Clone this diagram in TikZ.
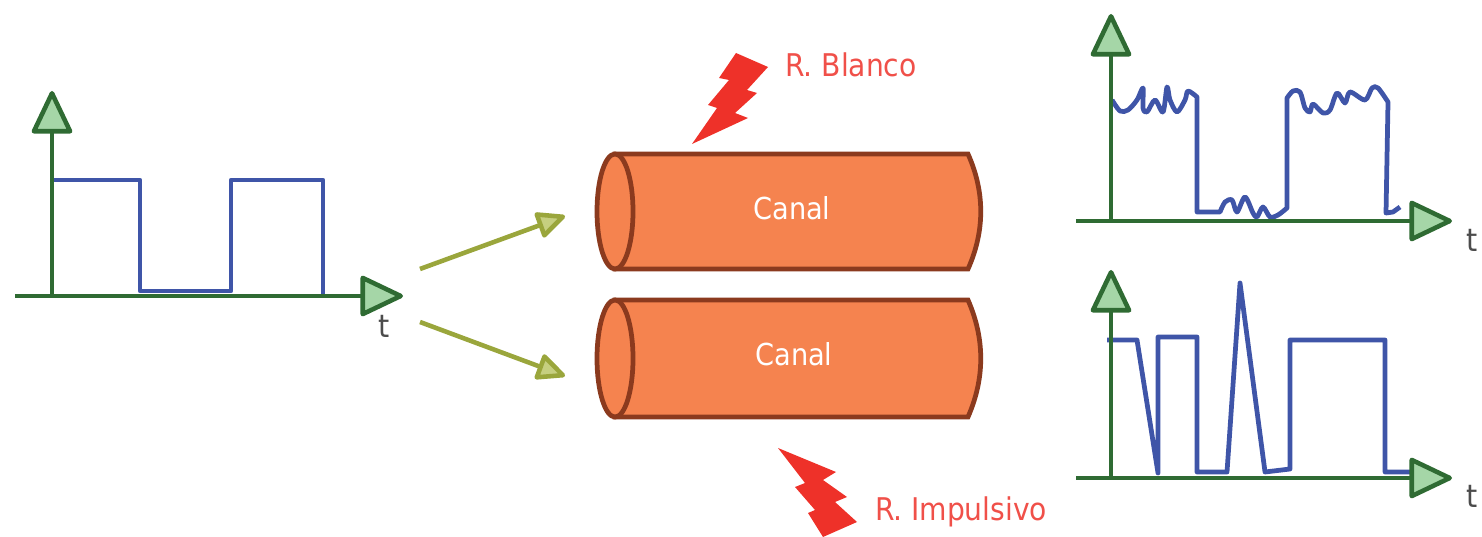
\documentclass[tikz,border=0pt]{standalone}
\usepackage{fontspec}
\setmainfont{DejaVu Sans Condensed}
\usetikzlibrary{arrows.meta}
\definecolor{axisgreen}{HTML}{2F6B33}
\definecolor{headgreen}{HTML}{A5D6A7}
\definecolor{signalblue}{HTML}{3F55A8}
\definecolor{boltred}{HTML}{EE3129}
\definecolor{canalfill}{HTML}{F5834F}
\definecolor{canalline}{HTML}{8B3A1E}
\definecolor{inputolive}{HTML}{9AA63C}
\definecolor{headolive}{HTML}{C6CF80}
\tikzset{
  axis/.style={line width=1.3pt, axisgreen, -{Triangle[round, length=13pt, width=12pt, fill=headgreen]}},
  signal/.style={line width=1.35pt, signalblue, line join=round},
  input/.style={line width=1.3pt, inputolive, -{Triangle[round, length=9pt, width=8pt, fill=headolive]}},
  canalbody/.style={fill=canalfill, draw=canalline, line width=1.35pt},
  canaltext/.style={text=white, font=\fontsize{8.6pt}{10pt}\selectfont},
  noiselabel/.style={text=boltred!85!white, font=\fontsize{8.9pt}{10pt}\selectfont},
  timelabel/.style={text=black!70, font=\fontsize{9pt}{10pt}\selectfont},
  bolt/.style={fill=boltred},
  wobble/.style={smooth, tension=0.5}
}
\begin{document}
\begin{tikzpicture}[x=0.01cm,y=-0.01cm]
\useasboundingbox (0,0) rectangle (1482,537);
\draw[canalbody] (615,154) -- (968,154) .. controls (985,192) and (985,231) .. (968,269) -- (615,269) -- cycle;
\draw[canalbody] (615,211.5) ellipse [x radius=18, y radius=57.5];
\draw[canalbody] (615,300) -- (968,300) .. controls (985,339) and (985,378) .. (968,417) -- (615,417) -- cycle;
\draw[canalbody] (615,358.5) ellipse [x radius=18, y radius=58.5];
\path (792,208) node (canalA) [canaltext] {Canal};
\path (794,354) node (canalB) [canaltext] {Canal};
\path (851,65) node (blanco) [noiselabel] {R. Blanco};
\path (961,512) node (impulsivo) [noiselabel] {R. Impulsivo};
\path (384,326) node (tA) [timelabel] {t};
\path (1472,240) node (tB) [timelabel] {t};
\path (1472,496) node (tC) [timelabel] {t};
\coordinate (split1) at (420,269);
\coordinate (split2) at (420,322);
\coordinate (in1) at (565,216);
\coordinate (in2) at (565,376);
\draw[input] (split1) -- (in1);
\draw[input] (split2) -- (in2);
\fill[bolt] (736,53) -- (768,67) -- (747,90) -- (757,93) -- (735,113) -- (748,118) -- (692,144) -- (717,108) -- (708,105) -- (729,80) -- (719,78) -- cycle;
\fill[bolt] (778,448) -- (836,472) -- (823,480) -- (847,497) -- (835,502) -- (857,522) -- (823,537) -- (808,513) -- (815,510) -- (795,487) -- (805,483) -- cycle;
\draw[signal] (52,180) -- (140,180) -- (140,291) -- (231,291) -- (231,180) -- (323,180) -- (323,296);
\draw[signal] plot[wobble] coordinates {(1112,100) (1120,111) (1128,110) (1137,100) (1143,88) (1143,108) (1147,112) (1155,100) (1163,112) (1167,87) (1170,100) (1177,112) (1185,100) (1188,91) (1197,97)}
  -- (1197,212) -- (1220,212) -- plot[wobble] coordinates {(1220,212) (1225,202) (1232,200) (1237,212) (1245,197) (1253,213) (1257,217) (1263,207) (1270,217) (1278,215) (1287,208)}
  -- (1287,98) -- plot[wobble] coordinates {(1287,98) (1293,91) (1300,92) (1305,108) (1310,112) (1313,104) (1323,113) (1330,110) (1337,93) (1345,103) (1350,92) (1365,100) (1372,88) (1378,88) (1388,102)}
  -- (1386,213) -- (1393,212) -- (1400,207);
\draw[signal] (1107,340) -- (1137,340) -- (1158,473) -- (1158,337) -- (1197,337) -- (1197,472) -- (1227,472) -- (1240,283) -- (1265,472) -- (1290,469) -- (1290,340) -- (1385,340) -- (1385,472) -- (1410,472);
\coordinate (orgA) at (52,296);
\coordinate (topA) at (52,91);
\coordinate (leftA) at (15,296);
\coordinate (endA) at (403,296);
\coordinate (orgB) at (1111,221);
\coordinate (topB) at (1111,14);
\coordinate (leftB) at (1076,221);
\coordinate (endB) at (1452,221);
\coordinate (orgC) at (1111,478);
\coordinate (topC) at (1111,270);
\coordinate (leftC) at (1076,478);
\coordinate (endC) at (1452,478);
\draw[axis] (orgA) -- (topA);
\draw[axis] (leftA) -- (endA);
\draw[axis] (orgB) -- (topB);
\draw[axis] (leftB) -- (endB);
\draw[axis] (orgC) -- (topC);
\draw[axis] (leftC) -- (endC);
\end{tikzpicture}
\end{document}
